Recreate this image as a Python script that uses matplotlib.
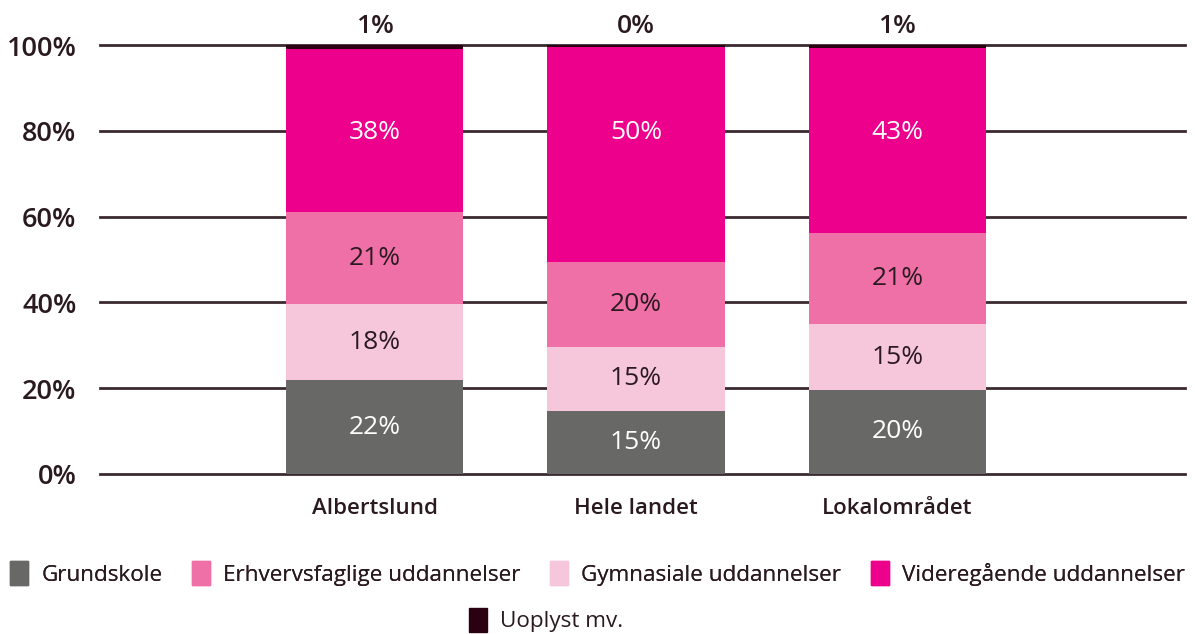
import numpy as np
import matplotlib.pyplot as plt

plt.rcParams['font.family'] = ['Open Sans', 'DejaVu Sans']

# --- data ---
categories = ["Albertslund", "Hele landet", "Lokalområdet"]
series = ["Grundskole", "Erhvervsfaglige uddannelser", "Gymnasiale uddannelser",
          "Videregående uddannelser", "Uoplyst mv."]
grundskole = [21.9, 14.7, 19.6]
gymnasiale = [17.7, 15.0, 15.3]
erhverv = [21.4, 19.7, 21.2]
videregaaende = [38.1, 50.1, 43.1]
uoplyst = [0.8, 0.4, 0.8]

C_GRAY = "#686966"
C_MID = "#ef70a6"
C_LIGHT = "#f6c6da"
C_MAG = "#ec008c"
C_DARK = "#2b0010"
TXT = "#2a1a20"

fig = plt.figure(figsize=(11.95, 6.34), dpi=100)
ax = fig.add_axes([0.0837, 0.2524, 0.9079, 0.6766])

x = np.arange(len(categories))
w = 0.68

# stack order bottom -> top (as in the picture); last field = fixed label height
stack = [
    (grundskole, C_GRAY, "white", None),
    (gymnasiale, C_LIGHT, TXT, None),
    (erhverv, C_MID, TXT, None),
    (videregaaende, C_MAG, "white", 79.5),
]
bottom = np.zeros(len(categories))
for vals, col, tcol, ly in stack:
    vals = np.array(vals)
    ax.bar(x, vals, w, bottom=bottom, color=col, zorder=3)
    for xi, b, v in zip(x, bottom, vals):
        yy = b + v / 2 if ly is None else ly
        ax.text(xi, yy, f"{round(v)}%", ha="center", va="center",
                color=tcol, fontsize=19, zorder=4)
    bottom += vals
ax.bar(x, uoplyst, w, bottom=bottom, color=C_DARK, zorder=3)
for xi, v in zip(x, uoplyst):
    ax.text(xi, 104.2, f"{round(v)}%", ha="center", va="center",
            color=TXT, fontsize=19, fontweight="semibold", clip_on=False)

# gridlines
for yv in range(0, 101, 20):
    ax.axhline(yv, color="#3a2a30", lw=2, zorder=2, clip_on=False)

ax.set_xlim(-1.05, 3.1)
ax.set_ylim(0, 100)
ax.set_yticks(range(0, 101, 20))
ax.set_yticklabels([f"{v}%" for v in range(0, 101, 20)])
ax.set_xticks(x)
ax.set_xticklabels(categories)
ax.tick_params(axis="y", length=0, pad=17, labelsize=19.5, labelcolor=TXT)
ax.tick_params(axis="x", length=0, pad=17, labelsize=16, labelcolor=TXT)
for lab in ax.get_yticklabels() + ax.get_xticklabels():
    lab.set_fontweight("semibold")
for s in ax.spines.values():
    s.set_visible(False)

# legend
cols = [C_GRAY, C_MID, C_LIGHT, C_MAG, C_DARK]
handles = [plt.Rectangle((0, 0), 1, 1, color=c) for c in cols]
leg_kw = dict(frameon=False, fontsize=16.2, handlelength=0.8, handleheight=1.3,
              handletextpad=0.6, labelcolor=TXT)
leg1 = fig.legend(handles[:4], series[:4], loc="center", bbox_to_anchor=(0.5, 0.096),
                  ncol=4, columnspacing=1.3, borderaxespad=0, borderpad=0, **leg_kw)
fig.legend(handles[4:], series[4:], loc="center", bbox_to_anchor=(0.457, 0.022),
           ncol=1, borderaxespad=0, borderpad=0, **leg_kw)
fig.add_artist(leg1)

fig.savefig("out.png", dpi=100)
